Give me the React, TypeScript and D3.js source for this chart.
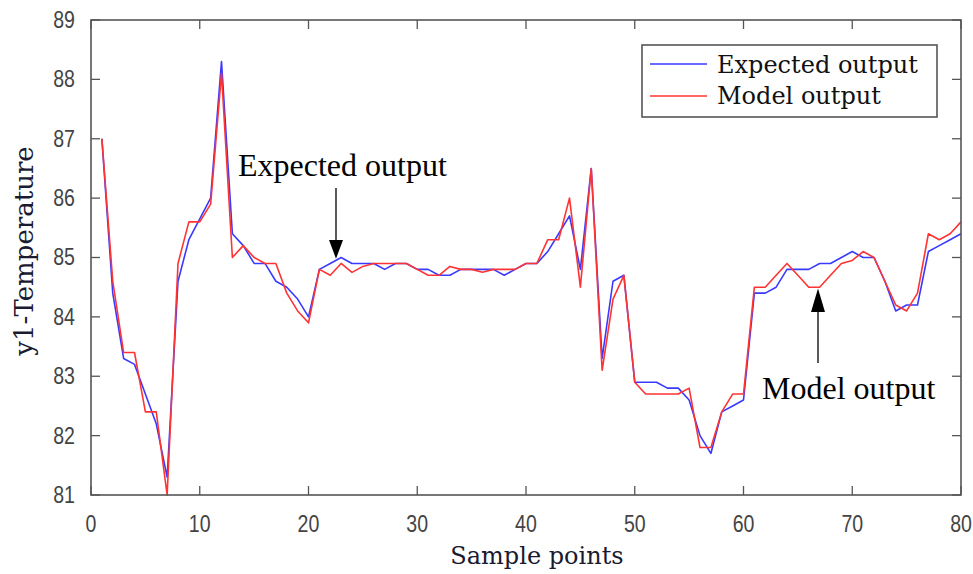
import React from "react";
import * as d3 from "d3";

const samples: number[] = d3.range(1, 81);
const expectedOutput: number[] = [
  87.0, 84.4, 83.3, 83.2, 82.7, 82.2, 81.3, 84.6, 85.3, 85.65,
  86.0, 88.3, 85.4, 85.2, 84.9, 84.9, 84.6, 84.5, 84.3, 84.0,
  84.8, 84.9, 85.0, 84.9, 84.9, 84.9, 84.8, 84.9, 84.9, 84.8,
  84.8, 84.7, 84.7, 84.8, 84.8, 84.8, 84.8, 84.7, 84.8, 84.9,
  84.9, 85.1, 85.4, 85.7, 84.8, 86.5, 83.3, 84.6, 84.7, 82.9,
  82.9, 82.9, 82.8, 82.8, 82.6, 82.0, 81.7, 82.4, 82.5, 82.6,
  84.4, 84.4, 84.5, 84.8, 84.8, 84.8, 84.9, 84.9, 85.0, 85.1,
  85.0, 85.0, 84.6, 84.1, 84.2, 84.2, 85.1, 85.2, 85.3, 85.4,
];
const modelOutput: number[] = [
  87.0, 84.6, 83.4, 83.4, 82.4, 82.4, 81.0, 84.9, 85.6, 85.6,
  85.9, 88.1, 85.0, 85.2, 85.0, 84.9, 84.9, 84.4, 84.1, 83.9,
  84.8, 84.7, 84.9, 84.75, 84.85, 84.9, 84.9, 84.9, 84.9, 84.8,
  84.7, 84.7, 84.85, 84.8, 84.8, 84.75, 84.8, 84.8, 84.8, 84.9,
  84.9, 85.3, 85.3, 86.0, 84.5, 86.5, 83.1, 84.3, 84.7, 82.9,
  82.7, 82.7, 82.7, 82.7, 82.8, 81.8, 81.8, 82.4, 82.7, 82.7,
  84.5, 84.5, 84.7, 84.9, 84.7, 84.5, 84.5, 84.7, 84.9, 84.95,
  85.1, 85.0, 84.6, 84.2, 84.1, 84.4, 85.4, 85.3, 85.4, 85.6,
];
const xTicks: number[] = [0, 10, 20, 30, 40, 50, 60, 70, 80];
const yTicks: number[] = [81, 82, 83, 84, 85, 86, 87, 88, 89];
const seriesNames: string[] = ["Expected output", "Model output"];
const seriesColors: string[] = ["#3a3aff", "#ff3333"];

const W = 973;
const H = 574;
const left = 91;
const right = 961;
const top = 20;
const bottom = 495;

export default function App() {
  const x = d3.scaleLinear().domain([0, 80]).range([left, right]);
  const y = d3.scaleLinear().domain([81, 89]).range([bottom, top]);
  const line = d3
    .line<number>()
    .x((_, i) => x(samples[i]))
    .y((d) => y(d));
  const tickLen = 9;
  const axisColor = "#555";
  const tickFont = "'Liberation Sans', Arial, sans-serif";
  const titleFont = "'DejaVu Serif', serif";
  const annFont = "'Liberation Serif', 'Times New Roman', serif";

  const arrow1X = 336;
  const arrow2X = 818;

  return (
    <svg
      width={W}
      height={H}
      style={{ position: "absolute", left: 0, top: 0, background: "#fff" }}
    >
      <rect x={0} y={0} width={W} height={H} fill="#fff" />
      {xTicks.map((t) => (
        <g key={"xt" + t}>
          <line x1={x(t)} x2={x(t)} y1={bottom} y2={bottom - tickLen} stroke={axisColor} strokeWidth={1.3} />
          <line x1={x(t)} x2={x(t)} y1={top} y2={top + tickLen} stroke={axisColor} strokeWidth={1.3} />
          <text
            x={x(t)}
            y={532}
            textAnchor="middle"
            fontFamily={tickFont}
            fontSize={23}
            fill="#444"
            transform={`translate(${x(t)},0) scale(0.85,1) translate(${-x(t)},0)`}
          >
            {t}
          </text>
        </g>
      ))}
      {yTicks.map((t) => (
        <g key={"yt" + t}>
          <line x1={left} x2={left + tickLen} y1={y(t)} y2={y(t)} stroke={axisColor} strokeWidth={1.3} />
          <line x1={right} x2={right - tickLen} y1={y(t)} y2={y(t)} stroke={axisColor} strokeWidth={1.3} />
          <text
            x={75}
            y={y(t) + 8}
            textAnchor="end"
            fontFamily={tickFont}
            fontSize={23}
            fill="#444"
            transform={`translate(75,0) scale(0.85,1) translate(-75,0)`}
          >
            {t}
          </text>
        </g>
      ))}
      <path d={line(expectedOutput) || ""} fill="none" stroke={seriesColors[0]} strokeWidth={1.6} strokeLinejoin="round" />
      <path d={line(modelOutput) || ""} fill="none" stroke={seriesColors[1]} strokeWidth={1.6} strokeLinejoin="round" />
      <rect x={left} y={top} width={right - left} height={bottom - top} fill="none" stroke={axisColor} strokeWidth={1.6} />

      <rect x={642} y={45} width={295} height={72} fill="#fff" stroke={axisColor} strokeWidth={1.6} />
      {seriesNames.map((n, i) => (
        <g key={n}>
          <line x1={650} x2={707} y1={64 + i * 32} y2={64 + i * 32} stroke={seriesColors[i]} strokeWidth={1.6} />
          <text x={717} y={73 + i * 31} fontFamily={titleFont} fontSize={24} fill="#111">
            {n}
          </text>
        </g>
      ))}

      <text x={238} y={176} fontFamily={annFont} fontSize={32} fill="#000">
        Expected output
      </text>
      <line x1={arrow1X} x2={arrow1X} y1={188} y2={242} stroke="#000" strokeWidth={1.3} />
      <path d={`M${arrow1X - 7},240 L${arrow1X + 7},240 L${arrow1X},${y(84.98)} Z`} fill="#000" />

      <text x={762} y={399} fontFamily={annFont} fontSize={32} fill="#000">
        Model output
      </text>
      <line x1={arrow2X} x2={arrow2X} y1={363} y2={310} stroke="#000" strokeWidth={1.3} />
      <path d={`M${arrow2X - 7},312 L${arrow2X + 7},312 L${arrow2X},${y(84.48)} Z`} fill="#000" />

      <text x={537} y={564} textAnchor="middle" fontFamily={titleFont} fontSize={24} fill="#1a1a30">
        Sample points
      </text>
      <text
        transform={`translate(33,251) rotate(-90)`}
        textAnchor="middle"
        fontFamily={titleFont}
        fontSize={26}
        fill="#1a1a30"
      >
        y1-Temperature
      </text>
    </svg>
  );
}
